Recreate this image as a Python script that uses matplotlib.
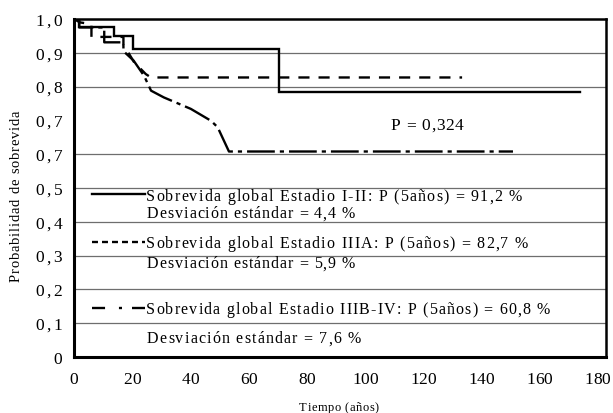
#!/usr/bin/env python3
"""Survival by stage (Kaplan-Meier style curves), redrawn with matplotlib."""
import matplotlib
matplotlib.use("Agg")
import matplotlib.pyplot as plt
from matplotlib import transforms
from matplotlib.font_manager import findfont, FontProperties
from matplotlib.ft2font import FT2Font

# ---- values ----
x_ticks = [0, 20, 40, 60, 80, 100, 120, 140, 160, 180]
y_ticks = [0.0, 0.1, 0.2, 0.3, 0.4, 0.5, 0.6, 0.7, 0.8, 0.9, 1.0]
y_tick_labels = ["0", "0,1", "0,2", "0,3", "0,4", "0,5", "0,7", "0,7", "0,8", "0,9", "1,0"]
grid_levels = [0.1, 0.2, 0.3, 0.4, 0.5, 0.6, 0.8, 0.9]

# Estadio I-II (solid)
t_stage_12 = [0, 1.8, 1.8, 13.9, 13.9, 20.2, 20.2, 70.6, 70.6, 174]
s_stage_12 = [1.0, 1.0, 0.975, 0.975, 0.951, 0.951, 0.912, 0.912, 0.783, 0.783]

# Estadio IIIA (dashed)
t_stage_3a = [0, 2, 6, 6, 17, 17, 18.6, 20.6, 24.7, 26.5, 133.5]
s_stage_3a = [1.0, 0.99, 0.985, 0.947, 0.947, 0.925, 0.902, 0.873, 0.837, 0.827, 0.827]

# Estadio IIIB-IV (dash-dot)
t_stage_3b = [0, 1.8, 1.8, 10.4, 10.4, 17, 17, 20.5, 24.1, 26.5, 30.9, 40.2, 47.1, 49.4, 53.3, 151]
s_stage_3b = [1.0, 1.0, 0.975, 0.975, 0.931, 0.931, 0.905, 0.877, 0.832, 0.788, 0.768,
              0.734, 0.699, 0.68, 0.608, 0.608]

legend_texts = [
    "Sobrevida global Estadio I-II: P (5años) = 91,2 %",
    "Desviación estándar = 4,4 %",
    "Sobrevida global Estadio IIIA: P (5años) = 82,7 %",
    "Desviación estándar = 5,9 %",
    "Sobrevida global Estadio IIIB-IV: P (5años) = 60,8 %",
    "Desviación estándar = 7,6 %",
]
p_text = "P = 0,324"
x_label = "Tiempo (años)"
y_label = "Probabilidad de sobrevida"

# ---- layout ----
W, H, DPI = 613, 414, 100
SERIF = findfont(FontProperties(family="Liberation Serif"))
plt.rcParams["lines.scale_dashes"] = False

fig = plt.figure(figsize=(W / DPI, H / DPI), dpi=DPI)
ax = fig.add_axes([74 / W, (H - 358) / H, (606 - 74) / W, (358 - 20) / H])
ident = transforms.IdentityTransform()


def advances(s, size):
    font = FT2Font(SERIF, hinting_factor=1)
    font.set_size(size, DPI)
    return [font.load_char(ord(c)).linearHoriAdvance / 65536 for c in s]


def spaced_text(x, y, s, size, width=None, ha="left", trans=ident, vertical=False):
    """Draw s char by char so the letter spacing can match the original."""
    adv = advances(s, size)
    track = 0.0
    if width is not None and len(s) > 1:
        track = (width - sum(adv)) / (len(s) - 1)
    total = sum(adv) + track * (len(s) - 1)
    pos = {"left": 0.0, "center": -total / 2, "right": -total}[ha]
    shift = 0.33 * size * DPI / 72  # baseline sits this far below the centre
    for c, a in zip(s, adv):
        if vertical:
            dx, dy = shift, pos
        else:
            dx, dy = pos, -shift
        t = transforms.offset_copy(trans, fig=fig, x=dx, y=dy, units="dots")
        fig.text(x, y, c, transform=t, fontsize=size, family="Liberation Serif",
                 rotation=90 if vertical else 0, rotation_mode="anchor",
                 ha="left", va="baseline", color="black")
        pos += a + track


# grid (0,7 line is hidden in the original)
for g in grid_levels:
    ax.axhline(g, color="#6e6e6e", lw=0.9, zorder=0)

ax.plot(t_stage_12, s_stage_12, color="black", lw=1.7, solid_joinstyle="miter")
ax.plot(t_stage_3a, s_stage_3a, color="black", lw=1.7, linestyle=(0, (8, 6.5)))
ax.plot(t_stage_3b, s_stage_3b, color="black", lw=1.7, linestyle=(0, (20, 3.6, 3, 3.6)))

ax.set_xlim(0, 183)
ax.set_ylim(0, 1)
ax.set_xticks([])
ax.set_yticks([])
for name, side in ax.spines.items():
    side.set_linewidth(2.2 if name in ("left", "bottom") else 1.8)
    side.set_color("black")

# tick labels
y_tr = transforms.blended_transform_factory(ident, ax.transData)
for v, lab in zip(y_ticks, y_tick_labels):
    spaced_text(62, v, lab, 12.5, width=None if len(lab) == 1 else 27, ha="right", trans=y_tr)
x_tr = transforms.blended_transform_factory(ax.transData, ident)
for v in x_ticks:
    spaced_text(v, H - 378, str(v), 12.5, ha="center", trans=x_tr)

# axis titles
spaced_text(339, H - 407, x_label, 9, width=80, ha="center")
spaced_text(15, H - 282, y_label, 10.5, width=172, vertical=True)

# p-value
spaced_text(427, H - 124, p_text, 12.5, width=73, ha="center")

# legend samples drawn by hand, as in the original
sample_styles = ["-", (0, (4.3, 2.9)), (0, (9.4, 10, 2.2, 7.2))]
sample_rows = [195, 243, 309]
for style, row in zip(sample_styles, sample_rows):
    fig.add_artist(plt.Line2D([92, 145], [H - row, H - row], transform=ident,
                              color="black", lw=1.7, linestyle=style))

text_rows = [196, 213, 243, 263, 309, 338]
text_starts = [146, 147, 146, 147, 146, 147]
text_ends = [522, 355, 528, 355, 550, 361]
for s, row, x0, x1 in zip(legend_texts, text_rows, text_starts, text_ends):
    spaced_text(x0, H - row, s, 11.5, width=x1 - x0)

fig.savefig("out.png", dpi=DPI)
